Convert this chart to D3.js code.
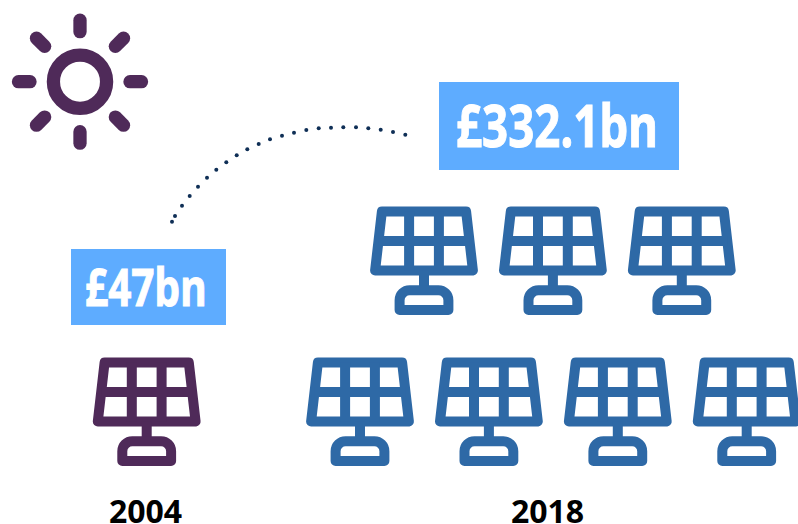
<!DOCTYPE html>
<html>
<head>
<meta charset="utf-8">
<style>
  html, body { margin: 0; padding: 0; background: #fff; overflow: hidden; }
  svg { display: block; }
</style>
<script src="https://cdn.jsdelivr.net/npm/d3@7"></script>
</head>
<body>
<div id="chart"></div>
<script>
;(function () {

    var years = ['2004', '2018'];
    var valueLabels = ['£47bn', '£332.1bn'];
    var panelColors = ['#4f2a59', '#2e69a6'];
    // Panels per row, top row first.
    var panelRows = [[1], [3, 4]];
    // Dots of the connector.
    var dotX = [172, 175, 182, 189.7, 198, 207, 216.3, 226.3, 236.7, 247.3, 258.7, 270, 282, 294, 306.3, 318.7, 331, 343.3, 356, 368.3, 380.7, 393, 405.3];
    var dotY = [221.7, 216, 205.7, 196, 186.7, 177.7, 169.7, 162.3, 155.3, 149.3, 144, 139.3, 135.7, 132.7, 130, 128.3, 127.7, 127.3, 127.3, 128.3, 129.7, 132, 134.7];

    var width = 798, height = 524;

    var svg = d3.select('#chart').append('svg')
        .attr('width', width)
        .attr('height', height);

    // One unit is one panel slot.
    var slotX = d3.scaleLinear().domain([0, 1]).range([0, 128.9]);
    var rowY = d3.scaleLinear().domain([0, 1]).range([206.5, 357.5]);

    function drawPanel(x, y, color) {
        var g = svg.append('g')
            .attr('transform', 'translate(' + x + ',' + y + ')')
            .attr('fill', 'none')
            .attr('stroke', color)
            .attr('stroke-width', 10)
            .attr('stroke-linejoin', 'round');
        g.append('path').attr('d', 'M-42.1,5L42.1,5L48.9,64L-48.9,64Z');
        g.append('path').attr('d', 'M-14.9,5V64M14.9,5V64M-45.5,34.4H45.5M0,64V83');
        g.append('path').attr('d', 'M-24.4,103.4V93.7A10,10 0 0 1 -14.4,83.7H14.4A10,10 0 0 1 24.4,93.7V103.4Z');
    }

    function drawValue(label, box, textX, baseline, size, length) {
        svg.append('rect')
            .attr('x', box[0]).attr('y', box[1])
            .attr('width', box[2]).attr('height', box[3])
            .attr('fill', '#5eacff');
        svg.append('text')
            .attr('x', textX)
            .attr('y', baseline)
            .attr('textLength', length)
            .attr('lengthAdjust', 'spacingAndGlyphs')
            .attr('font-family', '"Noto Sans"')
            .attr('font-weight', 700)
            .attr('font-size', size)
            .attr('fill', '#fff')
            .attr('stroke', '#fff')
            .attr('stroke-width', 1)
            .text(label);
    }

    // Sun
    var sun = svg.append('g')
        .attr('transform', 'translate(80,81.7)')
        .attr('fill', 'none')
        .attr('stroke', panelColors[0])
        .attr('stroke-width', 13.3);
    sun.append('circle').attr('r', 26.6);
    sun.selectAll('line')
        .data(d3.range(8))
        .enter()
        .append('line')
        .attr('stroke-linecap', 'round')
        .attr('x1', function (d) { return 50 * Math.cos(d * Math.PI / 4); })
        .attr('y1', function (d) { return 50 * Math.sin(d * Math.PI / 4); })
        .attr('x2', function (d) { return 61.5 * Math.cos(d * Math.PI / 4); })
        .attr('y2', function (d) { return 61.5 * Math.sin(d * Math.PI / 4); });

    // Connector
    svg.selectAll('circle.dot')
        .data(dotX)
        .enter()
        .append('circle')
        .attr('class', 'dot')
        .attr('cx', function (d) { return d; })
        .attr('cy', function (d, i) { return dotY[i]; })
        .attr('r', 2)
        .attr('fill', '#0f2f56');

    // Panels
    var rowStarts = [424, 360];
    drawPanel(146.7, rowY(1), panelColors[0]);
    panelRows[1].forEach(function (n, r) {
        d3.range(n).forEach(function (i) {
            drawPanel(rowStarts[r] + slotX(i), rowY(r), panelColors[1]);
        });
    });

    // Value boxes
    drawValue(valueLabels[0], [71, 249, 155, 76], 85, 305.7, 52, 121.5);
    drawValue(valueLabels[1], [439, 82, 240, 88], 456, 146.7, 60, 202);

    // Year labels
    svg.selectAll('text.year')
        .data(years)
        .enter()
        .append('text')
        .attr('class', 'year')
        .attr('x', function (d, i) { return [145.5, 547.5][i]; })
        .attr('y', 523)
        .attr('text-anchor', 'middle')
        .attr('font-family', '"Open Sans"')
        .attr('font-weight', 700)
        .attr('font-size', 32)
        .attr('fill', '#000')
        .text(function (d) { return d; });

})();
</script>
</body>
</html>
